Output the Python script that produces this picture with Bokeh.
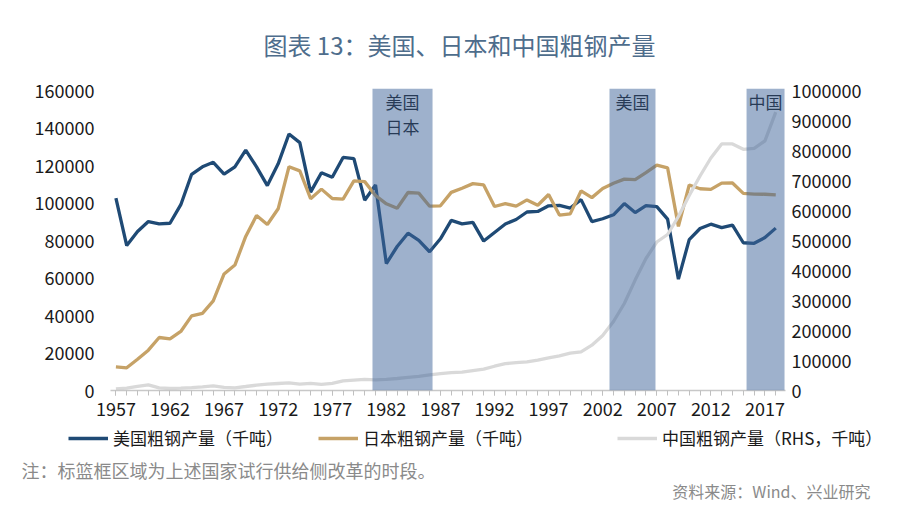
from bokeh.plotting import figure
from bokeh.layouts import column
from bokeh.models import (Range1d, LinearAxis, FixedTicker, NumeralTickFormatter,
                          BoxAnnotation, Label, Legend, LegendItem)
from bokeh.embed import file_html
from bokeh.resources import INLINE

# ---------------- data (thousand tonnes) ----------------
years = list(range(1957, 2019))

us_steel = [102600, 77300, 84800, 90100, 88900, 89200, 99100, 115300, 119300, 121700,
            115400, 119300, 128200, 119300, 109300, 120900, 136800, 132200, 105800, 116100,
            113700, 124300, 123700, 101500, 109600, 67700, 76800, 83900, 80100, 74000,
            80900, 90700, 88900, 89700, 79700, 84300, 88800, 91200, 95200, 95500,
            98500, 98700, 97300, 101800, 90100, 91600, 93700, 99700, 94900, 98600,
            98100, 91400, 59400, 80500, 86400, 88700, 86900, 88200, 78800, 78500,
            81600, 86600]

japan_steel = [12570, 12120, 16630, 21500, 28270, 27550, 31500, 39800, 41160, 47780,
               62150, 66890, 82170, 93320, 88560, 96900, 119320, 117130, 102310, 107400,
               102410, 102110, 111750, 111400, 104000, 99550, 97180, 105590, 105280, 98280,
               98510, 105680, 107910, 110340, 109650, 98130, 99630, 98300, 101640, 98800,
               104550, 93550, 94190, 106440, 102870, 107750, 110510, 112720, 112470, 116230,
               120200, 118740, 87530, 109600, 107600, 107230, 110600, 110670, 105130, 104780,
               104660, 104320]

china_steel = [5350, 8000, 13870, 18660, 8700, 6670, 7620, 9640, 12230, 15320,
               10290, 9040, 13330, 17790, 21320, 23380, 25220, 21120, 23900, 20460,
               23740, 31780, 34480, 37120, 35600, 37160, 40020, 43470, 46790, 52200,
               56280, 59430, 61590, 66350, 71000, 80940, 89560, 92610, 95360, 101240,
               108910, 115590, 124260, 129000, 151000, 183000, 230000, 290000, 368000, 440000,
               495000, 520000, 580000, 650000, 715000, 775000, 822000, 822000, 804000, 807000,
               832000, 928000]

band_starts = [1980.72, 2002.63, 2015.3]
band_ends = [1986.27, 2006.88, 2018.81]
band_labels = [["美国", "日本"], ["美国"], ["中国"]]

x_ticks = list(range(1957, 2018, 5))
left_ticks = list(range(0, 160001, 20000))
right_ticks = list(range(0, 1000001, 100000))

series_names = ["美国粗钢产量（千吨）", "日本粗钢产量（千吨）", "中国粗钢产量（RHS，千吨）"]
title_text = "图表 13：美国、日本和中国粗钢产量"
note_text = "注：标篮框区域为上述国家试行供给侧改革的时段。"
source_text = "资料来源：Wind、兴业研究"

# ---------------- layout ----------------
W = 900
H_TOP, H_MAIN, H_BOT = 70, 355, 87
BL, BR, BT, BB = 110, 115, 18, 35
X0, X1 = 1956.5, 2018.9
YMAX = 160000 * 302 / 300.0
RMAX = 1000000 * 302 / 300.0
FRAME_H = H_MAIN - BT - BB
FRAME_BOTTOM = H_TOP + BT + FRAME_H  # page y of the frame bottom


def dy(sy):  # page y -> data y (left axis)
    return (FRAME_BOTTOM - sy) * YMAX / FRAME_H


FONT = "Noto Sans CJK SC"
US_C = "#1f4a75"
JP_C = "#c6a267"
CN_C = "#d9d9d9"
TICK_FS = "18px"
LINE_W = 3.3


def blank_fig(h):
    f = figure(width=W, height=h, output_backend="svg", toolbar_location=None,
               x_range=Range1d(0, W), y_range=Range1d(h, 0),
               x_axis_location=None, y_axis_location=None, frame_align=False,
               min_border=0, min_border_left=0, min_border_right=0,
               min_border_top=0, min_border_bottom=0)
    f.outline_line_color = None
    f.xgrid.visible = False
    f.ygrid.visible = False
    return f


# ---------- top: title ----------
top = blank_fig(H_TOP)
top.add_layout(Label(x=459, y=44, text=title_text, text_align="center",
                     text_baseline="middle", text_font=FONT, text_font_size="24px",
                     text_color="#4e6d8c"))

# ---------- main chart ----------
p = figure(width=W, height=H_MAIN, output_backend="svg", toolbar_location=None,
           x_range=Range1d(X0, X1), y_range=Range1d(0, YMAX), frame_align=False,
           min_border_left=BL, min_border_right=BR, min_border_top=BT, min_border_bottom=BB)
p.extra_y_ranges = {"rhs": Range1d(0, RMAX)}
p.outline_line_color = None
p.xgrid.visible = False
p.ygrid.visible = False

xa = p.xaxis[0]
xa.ticker = FixedTicker(ticks=x_ticks, minor_ticks=years)
xa.axis_line_color = "#c8c8c8"
xa.axis_line_width = 1.5
xa.major_tick_line_color = "#c0c0c0"
xa.minor_tick_line_color = "#c0c0c0"
xa.major_tick_in = 0
xa.major_tick_out = 5
xa.minor_tick_in = 0
xa.minor_tick_out = 5
xa.major_label_standoff = 6
xa.major_label_text_font = FONT
xa.major_label_text_font_size = TICK_FS
xa.major_label_text_color = "#1a1a1a"

ya = p.yaxis[0]
ya.ticker = FixedTicker(ticks=left_ticks)
ya.formatter = NumeralTickFormatter(format="0")
ya.axis_line_color = None
ya.major_tick_line_color = None
ya.minor_tick_line_color = None
ya.major_label_standoff = 10
ya.major_label_text_font = FONT
ya.major_label_text_font_size = TICK_FS
ya.major_label_text_color = "#1a1a1a"

ra = LinearAxis(y_range_name="rhs", ticker=FixedTicker(ticks=right_ticks),
                formatter=NumeralTickFormatter(format="0"))
ra.axis_line_color = None
ra.major_tick_line_color = None
ra.minor_tick_line_color = None
ra.major_label_standoff = 0
ra.major_label_text_font = FONT
ra.major_label_text_font_size = TICK_FS
ra.major_label_text_color = "#1a1a1a"
p.add_layout(ra, "right")

p.line(years, us_steel, line_color=US_C, line_width=LINE_W)
p.line(years, japan_steel, line_color=JP_C, line_width=LINE_W)
p.line(years, china_steel, line_color=CN_C, line_width=LINE_W, y_range_name="rhs")

for b0, b1 in zip(band_starts, band_ends):
    p.add_layout(BoxAnnotation(left=b0, right=b1, bottom=0, top=YMAX,
                               fill_color="#3d6399", fill_alpha=0.5, line_color=None,
                               level="overlay"))

for b0, b1, labs in zip(band_starts, band_ends, band_labels):
    for i, t in enumerate(labs):
        p.add_layout(Label(x=(b0 + b1) / 2, y=dy(101 + 25 * i), text=t,
                           text_align="center", text_baseline="middle",
                           text_font=FONT, text_font_size="17px", text_color="#111111"))

# ---------- bottom: legend and notes ----------
bot = blank_fig(H_BOT)
colors = [US_C, JP_C, CN_C]
legend_x = [68, 318, 617]
LEG_H = 18
leg_center = 441 - (H_TOP + H_MAIN)  # local y from top (empirically adjusted)
nan = float("nan")
for name, c, lx in zip(series_names, colors, legend_x):
    r = bot.line(x=[nan], y=[nan], line_color=c, line_width=LINE_W)
    lg = Legend(items=[LegendItem(label=name, renderers=[r])],
                location=(lx, H_BOT - leg_center - LEG_H / 2),
                orientation="horizontal", padding=0, margin=0, spacing=0,
                glyph_width=40, glyph_height=LEG_H, label_height=LEG_H,
                label_standoff=5, label_text_font=FONT, label_text_font_size="17px",
                label_text_color="#1a1a1a", border_line_color=None,
                background_fill_alpha=0)
    bot.add_layout(lg, "center")

bot.add_layout(Label(x=21, y=469 - (H_TOP + H_MAIN), text=note_text, text_align="left",
                     text_baseline="middle", text_font=FONT, text_font_size="18px",
                     text_color="#8a8a8a"))
bot.add_layout(Label(x=870, y=490 - (H_TOP + H_MAIN), text=source_text, text_align="right",
                     text_baseline="middle", text_font=FONT, text_font_size="16px",
                     text_color="#8a8a8a"))

layout = column(top, p, bot, spacing=0)
open("out.html", "w").write(file_html(layout, INLINE))
